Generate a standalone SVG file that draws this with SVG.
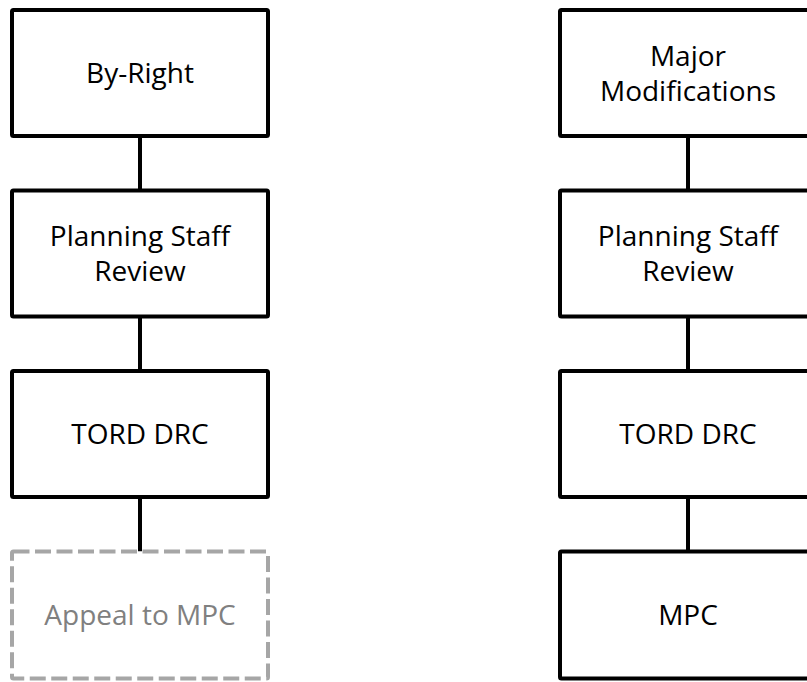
<svg xmlns="http://www.w3.org/2000/svg" width="807" height="682" viewBox="0 0 807 682">
<style>
.box{fill:#fff;stroke:#000;stroke-width:4;}
.dash{fill:#fff;stroke:#a6a6a6;stroke-width:4;stroke-dasharray:16 5.5;}
.t{font-family:"Open Sans","Liberation Sans",Arial,sans-serif;font-size:28px;fill:#000;text-anchor:middle;}
.g{fill:#808080;}
.c{stroke:#000;stroke-width:4;fill:none;}
</style>
<rect width="807" height="682" fill="#fff"/>
<g id="connectors">
<line class="c" x1="140" y1="136" x2="140" y2="190.5"/>
<line class="c" x1="140" y1="316.5" x2="140" y2="371"/>
<line class="c" x1="140" y1="497" x2="140" y2="551.5"/>
<line class="c" x1="688" y1="136" x2="688" y2="190.5"/>
<line class="c" x1="688" y1="316.5" x2="688" y2="371"/>
<line class="c" x1="688" y1="497" x2="688" y2="551.5"/>
</g>
<g id="by-right"><rect class="box" x="12" y="10" width="256" height="126" rx="1.5"/><text class="t" x="140" y="83">By-Right</text></g>
<g id="planning-left"><rect class="box" x="12" y="190.5" width="256" height="126" rx="1.5"/><text class="t" x="140" y="246">Planning Staff</text><text class="t" x="140" y="281">Review</text></g>
<g id="tord-left"><rect class="box" x="12" y="371" width="256" height="126" rx="1.5"/><text class="t" x="140" y="444">TORD DRC</text></g>
<g id="appeal"><rect class="dash" x="12" y="551.5" width="256" height="127" rx="1.5"/><text class="t g" x="140" y="625">Appeal to MPC</text></g>
<g id="major"><rect class="box" x="560" y="10" width="256" height="126" rx="1.5"/><text class="t" x="688" y="65.5">Major</text><text class="t" x="688" y="100.5">Modifications</text></g>
<g id="planning-right"><rect class="box" x="560" y="190.5" width="256" height="126" rx="1.5"/><text class="t" x="688" y="246">Planning Staff</text><text class="t" x="688" y="281">Review</text></g>
<g id="tord-right"><rect class="box" x="560" y="371" width="256" height="126" rx="1.5"/><text class="t" x="688" y="444">TORD DRC</text></g>
<g id="mpc"><rect class="box" x="560" y="551.5" width="256" height="127" rx="1.5"/><text class="t" x="688" y="625">MPC</text></g>
</svg>
